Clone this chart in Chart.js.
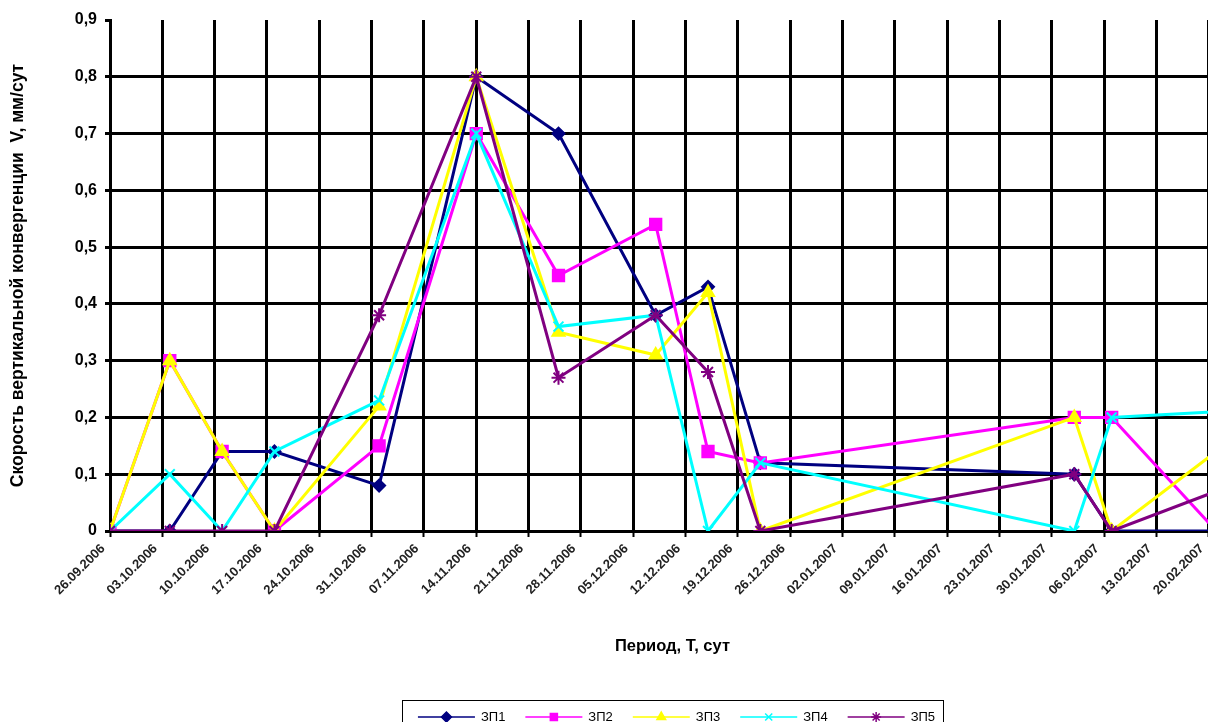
<!DOCTYPE html>
<html>
<head>
<meta charset="utf-8">
<script src="https://cdn.jsdelivr.net/npm/chart.js@4.4.1/dist/chart.umd.min.js"></script>
<style>
  html, body { margin: 0; padding: 0; background: #fff; overflow: hidden; }
  #wrap { position: relative; width: 1245px; height: 722px; }
  canvas { display: block; }
</style>
</head>
<body>
<div id="wrap"><canvas id="chart" width="1245" height="722"></canvas></div>
<script>
// Weekly date ticks along the x axis (one every 7 days from 26.09.2006)
const xTickLabels = [
  '26.09.2006', '03.10.2006', '10.10.2006', '17.10.2006', '24.10.2006', '31.10.2006',
  '07.11.2006', '14.11.2006', '21.11.2006', '28.11.2006', '05.12.2006', '12.12.2006',
  '19.12.2006', '26.12.2006', '02.01.2007', '09.01.2007', '16.01.2007', '23.01.2007',
  '30.01.2007', '06.02.2007', '13.02.2007', '20.02.2007'
];
const yTickLabels = ['0', '0,1', '0,2', '0,3', '0,4', '0,5', '0,6', '0,7', '0,8', '0,9'];

// Measurement dates, in days after 26.09.2006
const measureDays = [0, 8, 15, 22, 36, 49, 60, 73, 80, 87, 129, 134, 148];

const seriesNames = ['ЗП1', 'ЗП2', 'ЗП3', 'ЗП4', 'ЗП5'];
const zp1 = [0, 0, 0.14, 0.14, 0.08, 0.80, 0.70, 0.38, 0.43, 0.12, 0.10, 0, 0];
const zp2 = [0, 0.30, 0.14, 0, 0.15, 0.70, 0.45, 0.54, 0.14, 0.12, 0.20, 0.20, 0];
const zp3 = [0, 0.30, 0.14, 0, 0.22, 0.80, 0.35, 0.31, 0.42, 0, 0.20, 0, 0.14];
const zp4 = [0, 0.10, 0, 0.14, 0.23, 0.70, 0.36, 0.38, 0, 0.12, 0, 0.20, 0.21];
const zp5 = [0, 0, 0, 0, 0.38, 0.80, 0.27, 0.38, 0.28, 0, 0.10, 0, 0.07];

const seriesValues = [zp1, zp2, zp3, zp4, zp5];
const seriesColors = ['#000080', '#ff00ff', '#ffff00', '#00ffff', '#800080'];
const seriesMarkers = ['rectRot', 'rect', 'triangle', 'crossRot', 'star'];
const markerRadius = [6, 8, 7, 7, 7];

Chart.defaults.font.family = "'Liberation Sans', Arial, sans-serif";
Chart.defaults.color = '#000';

const datasets = seriesNames.map((name, i) => ({
  label: name,
  data: measureDays.map((d, k) => ({ x: d, y: seriesValues[i][k] })),
  borderColor: seriesColors[i],
  backgroundColor: seriesColors[i],
  borderWidth: 3,
  pointStyle: seriesMarkers[i],
  pointRadius: markerRadius[i],
  pointHoverRadius: markerRadius[i],
  pointBorderWidth: 2,
  pointBorderColor: seriesColors[i],
  pointBackgroundColor: seriesColors[i],
  tension: 0,
  order: seriesNames.length - i
}));

// Boxed legend below the axis title: a short line with the marker, then the name
const boxedLegend = {
  id: 'boxedLegend',
  afterDraw(chart) {
    const ctx = chart.ctx;
    const area = chart.chartArea;
    const xs = chart.scales.x;
    const lineLen = 57, gapText = 6, gapItem = 20, padL = 16, padR = 8;
    ctx.save();
    ctx.font = "13px 'Liberation Sans', Arial, sans-serif";
    const widths = chart.data.datasets.map(ds => lineLen + gapText + ctx.measureText(ds.label).width);
    const total = padL + padR + widths.reduce((a, b) => a + b, 0) + gapItem * (widths.length - 1);
    const cx = (area.left + area.right) / 2;
    const top = xs.bottom + 30;
    let x = cx - total / 2;
    ctx.strokeStyle = '#000';
    ctx.lineWidth = 1;
    ctx.strokeRect(Math.round(x) + 0.5, Math.round(top) + 0.5, Math.round(total), 40);
    const y = top + 17;
    x += padL;
    chart.data.datasets.forEach((ds, i) => {
      ctx.strokeStyle = ds.borderColor;
      ctx.fillStyle = ds.borderColor;
      ctx.lineWidth = 1.5;
      ctx.beginPath();
      ctx.moveTo(x, y);
      ctx.lineTo(x + lineLen, y);
      ctx.stroke();
      Chart.helpers.drawPoint(ctx, { pointStyle: ds.pointStyle, radius: 5, borderWidth: 1.5, rotation: 0 }, x + lineLen / 2, y);
      ctx.fillStyle = '#000';
      ctx.textBaseline = 'middle';
      ctx.textAlign = 'left';
      ctx.fillText(ds.label, x + lineLen + gapText, y);
      x += widths[i] + gapItem;
    });
    ctx.restore();
  }
};

new Chart(document.getElementById('chart'), {
  type: 'line',
  data: { datasets },
  options: {
    responsive: false,
    animation: false,
    devicePixelRatio: 1,
    layout: { padding: { top: 20, right: 0, bottom: 52, left: 0 } },
    plugins: { legend: { display: false }, tooltip: { enabled: false } },
    scales: {
      x: {
        type: 'linear',
        min: 0,
        max: 150.5,
        afterFit(scale) { scale.paddingLeft = 0; scale.paddingRight = 0; scale.height = 139; },
        ticks: {
          stepSize: 7,
          includeBounds: false,
          autoSkip: false,
          minRotation: 45,
          maxRotation: 45,
          padding: 4,
          labelOffset: -7,
          color: '#222',
          font: { size: 13, weight: 'bold' },
          callback: (v) => xTickLabels[Math.round(v / 7)]
        },
        grid: { color: '#000', lineWidth: 3, drawTicks: true, tickLength: 6, tickWidth: 2, tickColor: '#000' },
        border: { color: '#000', width: 3 },
        title: {
          display: true,
          text: 'Период, Т, сут',
          color: '#000',
          font: { size: 16.5, weight: 'bold' },
          padding: { top: 0, bottom: 14 }
        }
      },
      y: {
        min: 0,
        max: 0.9,
        afterFit(scale) { scale.width = 110; },
        ticks: {
          stepSize: 0.1,
          padding: 8,
          color: '#000',
          font: { size: 16, weight: 'bold' },
          callback: (v, i) => yTickLabels[i]
        },
        grid: {
          color: (c) => (c.index === yTickLabels.length - 1 ? 'rgba(0,0,0,0)' : '#000'),
          lineWidth: 3,
          drawTicks: true,
          tickLength: 5,
          tickColor: '#000'
        },
        border: { color: '#000', width: 3 },
        title: {
          display: true,
          text: 'Скорость вертикальной конвергенции  V, мм/сут',
          color: '#000',
          font: { size: 17.5, weight: 'bold' },
          padding: { top: 8, bottom: 0 }
        }
      }
    }
  },
  plugins: [boxedLegend]
});
</script>
</body>
</html>
